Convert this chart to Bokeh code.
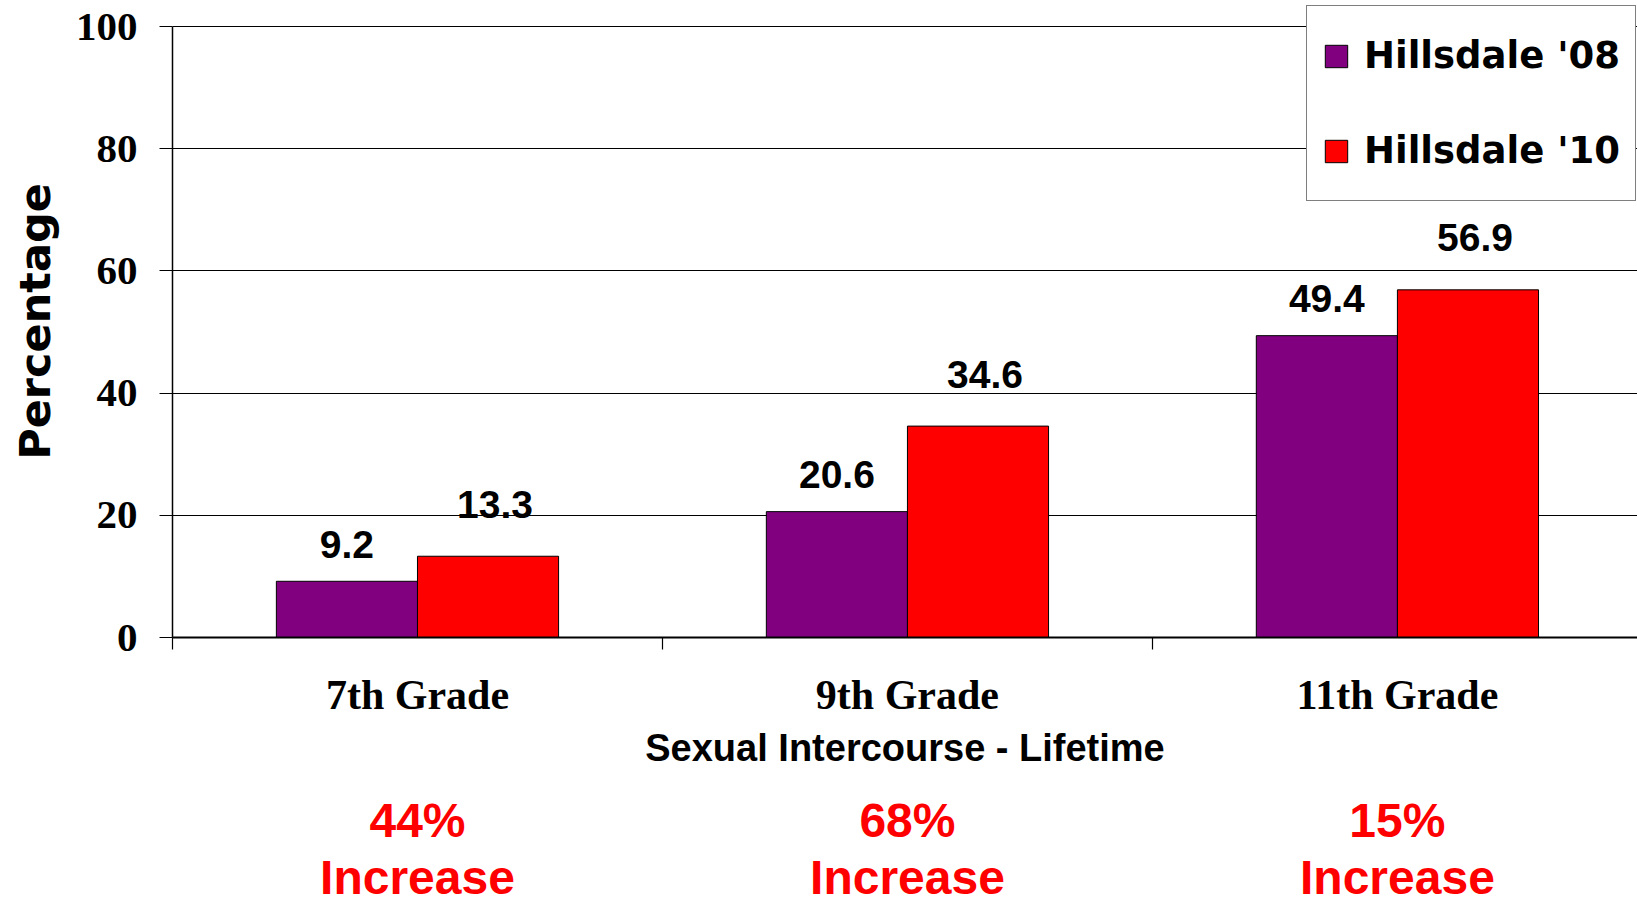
from bokeh.plotting import figure
from bokeh.models import (Range1d, LinearAxis, FixedTicker, ColumnDataSource)
from bokeh.transform import dodge
from bokeh.layouts import column
from bokeh.embed import file_html
from bokeh.resources import INLINE
from bokeh.core.properties import value

# ---- data ----
grades = ["7th Grade", "9th Grade", "11th Grade"]
series = ["Hillsdale '08", "Hillsdale '10"]
values_08 = [9.2, 20.6, 49.4]
values_10 = [13.3, 34.6, 56.9]
increase_labels = ["44%\nIncrease", "68%\nIncrease", "15%\nIncrease"]
y_ticks = [0, 20, 40, 60, 80, 100]
y_title = "Percentage"
x_title = "Sexual Intercourse - Lifetime"
colors = ["#800080", "#FF0000"]

# category slot centres on a numeric axis (category i occupies [i, i+1])
pos = [i + 0.5 for i in range(len(grades))]
bounds = list(range(len(grades) + 1))

src = ColumnDataSource(dict(
    grade=grades,
    pos=pos,
    v08=values_08,
    v10=values_10,
    l08=[f"{v:.1f}" for v in values_08],
    l10=[f"{v:.1f}" for v in values_10],
    inc=increase_labels,
))

# ---- layout constants ----
W = 1637
H1, H2 = 793, 106
FRAME_TOP, FRAME_BOTTOM, FRAME_LEFT = 5, 637, 172
TOP_LINE = 26                     # pixel row of the top gridline
x_end = len(grades) - 0.01        # last slot runs slightly past the page edge
y_end = y_ticks[-1] * (FRAME_BOTTOM - FRAME_TOP) / (FRAME_BOTTOM - TOP_LINE)

p1 = figure(width=W, height=H1, x_range=Range1d(0, x_end),
            y_range=Range1d(0, y_end), output_backend="svg", toolbar_location=None,
            x_axis_location=None, y_axis_location="left",
            min_border_left=FRAME_LEFT, min_border_right=0, min_border_top=FRAME_TOP,
            min_border_bottom=H1 - FRAME_BOTTOM)
p1.outline_line_color = None

bw = 0.288
p1.vbar(x=dodge("pos", -bw / 2), top="v08", width=bw, source=src,
        fill_color=colors[0], line_color="black", line_width=1, legend_label=series[0])
p1.vbar(x=dodge("pos", bw / 2), top="v10", width=bw, source=src,
        fill_color=colors[1], line_color="black", line_width=1, legend_label=series[1])

lab_kw = dict(text_font=value("Liberation Sans"), text_font_style="bold",
              text_font_size="39px", text_align="center", text_baseline="alphabetic",
              text_color="black", source=src)
p1.text(x=dodge("pos", -bw / 2), y="v08", text="l08", y_offset=-37, **lab_kw)
p1.text(x=dodge("pos", bw / 2), y="v10", text="l10", y_offset=-52, x_offset=7, **lab_kw)

# y axis
ya = p1.yaxis[0]
ya.ticker = FixedTicker(ticks=y_ticks)
ya.bounds = (y_ticks[0], y_ticks[-1])
ya.minor_tick_line_color = None
ya.major_tick_out = 13
ya.major_tick_in = 0
ya.major_tick_line_width = 1.2
ya.major_label_standoff = 22
ya.major_label_text_font = "Liberation Serif"
ya.major_label_text_font_style = "bold"
ya.major_label_text_font_size = "41px"
ya.major_label_text_color = "black"
ya.axis_line_color = "black"
ya.axis_line_width = 1.5
ya.axis_label = y_title
ya.axis_label_text_font = "DejaVu Sans"
ya.axis_label_text_font_style = "bold"
ya.axis_label_text_font_size = "43px"
ya.axis_label_text_color = "black"
ya.axis_label_standoff = 13

p1.ygrid.ticker = FixedTicker(ticks=y_ticks)
p1.ygrid.grid_line_color = "black"
p1.ygrid.grid_line_width = 1.2
p1.xgrid.visible = False

# boundary tick axis
num_axis = LinearAxis(ticker=FixedTicker(ticks=bounds),
                      major_label_overrides={b: "" for b in bounds},
                      major_tick_out=12, major_tick_in=0, minor_tick_line_color=None,
                      major_label_text_font_size="1px", major_label_standoff=0,
                      axis_line_color="black", axis_line_width=2,
                      major_tick_line_color="black", major_tick_line_width=1.2)
p1.add_layout(num_axis, "below")

cat_axis = LinearAxis(ticker=FixedTicker(ticks=pos),
                      major_label_overrides={p: g for p, g in zip(pos, grades)},
                      axis_line_color=None, major_tick_line_color=None,
                      minor_tick_line_color=None,
                      major_tick_out=0, major_tick_in=0,
                      major_label_standoff=22,
                      major_label_text_font="Liberation Serif",
                      major_label_text_font_style="bold",
                      major_label_text_font_size="42px",
                      major_label_text_color="black",
                      axis_label=x_title,
                      axis_label_text_font="Liberation Sans",
                      axis_label_text_font_style="bold",
                      axis_label_text_font_size="38px",
                      axis_label_text_color="black",
                      axis_label_standoff=6)
p1.add_layout(cat_axis, "below")

# legend
lg = p1.legend[0]
lg.location = (1134, 436)
lg.padding = 15
lg.spacing = 26
lg.label_height = 69
lg.glyph_width = 28
lg.glyph_height = 28
lg.label_standoff = 14
lg.margin = 0
lg.border_line_color = "black"
lg.border_line_width = 1.5
lg.background_fill_color = "white"
lg.background_fill_alpha = 1.0
lg.label_text_font = "DejaVu Sans"
lg.label_text_font_style = "bold"
lg.label_text_font_size = "37px"
lg.label_text_color = "black"

# bottom texts
p2 = figure(width=W, height=H2, x_range=p1.x_range, y_range=Range1d(0, 1),
            output_backend="svg", toolbar_location=None,
            x_axis_location=None, y_axis_location=None,
            min_border_left=FRAME_LEFT, min_border_right=0, min_border_top=0,
            min_border_bottom=0)
p2.outline_line_color = None
p2.xgrid.visible = False
p2.ygrid.visible = False
p2.text(x="pos", y=p2.y_range.end, text="inc", source=src,
        text_font=value("Liberation Sans"), text_font_style="bold",
        text_font_size="48px", text_align="center", text_baseline="top",
        text_color="#FF0000", text_line_height=1.09)

layout = column(p1, p2, spacing=0)
open("out.html", "w").write(file_html(layout, INLINE))
